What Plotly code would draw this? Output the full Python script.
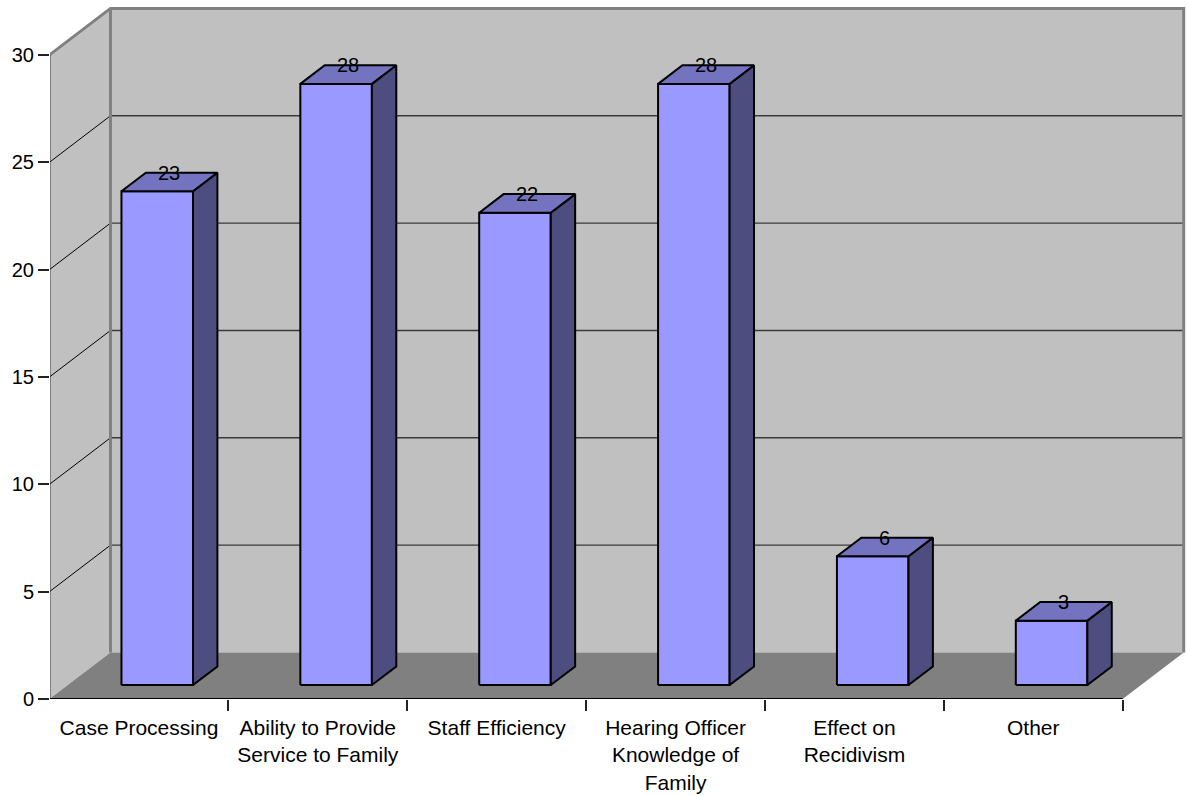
import plotly.graph_objects as go

# Survey results: count of responses by benefit area
categories = [
    "Case Processing",
    "Ability to Provide<br>Service to Family",
    "Staff Efficiency",
    "Hearing Officer<br>Knowledge of<br>Family",
    "Effect on<br>Recidivism",
    "Other",
]
values = [23, 28, 22, 28, 6, 3]
y_ticks = [0, 5, 10, 15, 20, 25, 30]
y_max = 30

# Oblique projection of the 3-D box (depth vector in axis units)
DDX, DDY = 0.341, 2.166
F0, F1 = 0.30, 0.70      # bar front/back position along the depth
HALF_W = 0.20            # half bar width in category units

FONT = "Arial, Liberation Sans, sans-serif"
FRONT, SIDE, TOP = "#9999FF", "#4D4D80", "#7373BF"
WALL, FLOOR, EDGE = "#C0C0C0", "#808080", "#808080"

n = len(categories)
x0, x1 = -0.5, n - 0.5

fig = go.Figure()


def poly(xs, ys, fill, line_color, line_width):
    fig.add_trace(go.Scatter(
        x=xs + [xs[0]], y=ys + [ys[0]], mode="lines", fill="toself",
        fillcolor=fill, line=dict(color=line_color, width=line_width),
        hoverinfo="skip", showlegend=False))


def seg(xs, ys, color, width):
    fig.add_trace(go.Scatter(
        x=xs, y=ys, mode="lines", line=dict(color=color, width=width),
        hoverinfo="skip", showlegend=False))


# Walls and floor
poly([x0 + DDX, x1 + DDX, x1 + DDX, x0 + DDX],
     [DDY, DDY, y_max + DDY, y_max + DDY], WALL, WALL, 0)
poly([x0, x0, x0 + DDX, x0 + DDX],
     [0, y_max, y_max + DDY, DDY], WALL, WALL, 0)
poly([x0, x1, x1 + DDX, x0 + DDX], [0, 0, DDY, DDY], FLOOR, FLOOR, 0)

# Gridlines on the back and side walls
for v in y_ticks[1:-1]:
    seg([x0 + DDX, x1 + DDX], [v + DDY, v + DDY], "#3a3a3a", 1.4)
    seg([x0, x0 + DDX], [v, v + DDY], "#000000", 1)

# Wall borders
seg([x0, x0 + DDX, x1 + DDX, x1 + DDX],
    [y_max, y_max + DDY, y_max + DDY, DDY], EDGE, 3)
seg([x0 + DDX, x0 + DDX], [DDY, y_max + DDY], EDGE, 3)

# Front axis lines
seg([x0, x0], [0, y_max], "#222222", 1.8)
seg([x0, x1], [0, 0], "#000000", 1.8)

# 3-D bars: front face, right side, top
for i, v in enumerate(values):
    l, r = i - HALF_W, i + HALF_W
    ax0, ay0 = F0 * DDX, F0 * DDY
    ax1, ay1 = F1 * DDX, F1 * DDY
    poly([l + ax0, r + ax0, r + ax0, l + ax0],
         [ay0, ay0, v + ay0, v + ay0], FRONT, "#000000", 2)
    poly([r + ax0, r + ax1, r + ax1, r + ax0],
         [ay0, ay1, v + ay1, v + ay0], SIDE, "#000000", 2)
    poly([l + ax0, r + ax0, r + ax1, l + ax1],
         [v + ay0, v + ay0, v + ay1, v + ay1], TOP, "#000000", 2)
    fig.add_annotation(
        x=i + 0.5 * DDX, y=v + F1 * DDY, text=str(v), showarrow=False,
        xanchor="center", yanchor="middle",
        font=dict(family=FONT, size=20, color="#000000"))

PX_PER_X = 178.87
PX_PER_Y = 21.47
left_m, bottom_m, W, H = 50, 97, 1188, 796
xr0 = x0 + 0.5 / PX_PER_X
xr1 = xr0 + (W - left_m) / PX_PER_X
yr1 = (H - bottom_m) / PX_PER_Y

fig.update_layout(
    width=W, height=H,
    margin=dict(l=left_m, r=0, t=0, b=bottom_m, pad=0),
    paper_bgcolor="white", plot_bgcolor="white",
    font=dict(family=FONT, size=21, color="#000000"),
    xaxis=dict(
        range=[xr0, xr1], showgrid=False, zeroline=False, showline=False,
        tickmode="array", tickvals=list(range(n)), ticktext=categories,
        ticks="", ticklabelstandoff=14,
        tickfont=dict(family=FONT, size=21, color="#000000"),
        minor=dict(tickmode="array", tickvals=[k - 0.5 for k in range(n + 1)],
                   ticks="outside", ticklen=11, tickwidth=1.5,
                   tickcolor="#222222", showgrid=False),
        fixedrange=True,
    ),
    yaxis=dict(
        range=[0, yr1], showgrid=False, zeroline=False, showline=False,
        tickmode="array", tickvals=y_ticks,
        ticks="outside", ticklen=11, tickwidth=1.5, tickcolor="#222222",
        tickfont=dict(family=FONT, size=20, color="#000000"),
        fixedrange=True,
    ),
)

fig.write_html("out.html")
